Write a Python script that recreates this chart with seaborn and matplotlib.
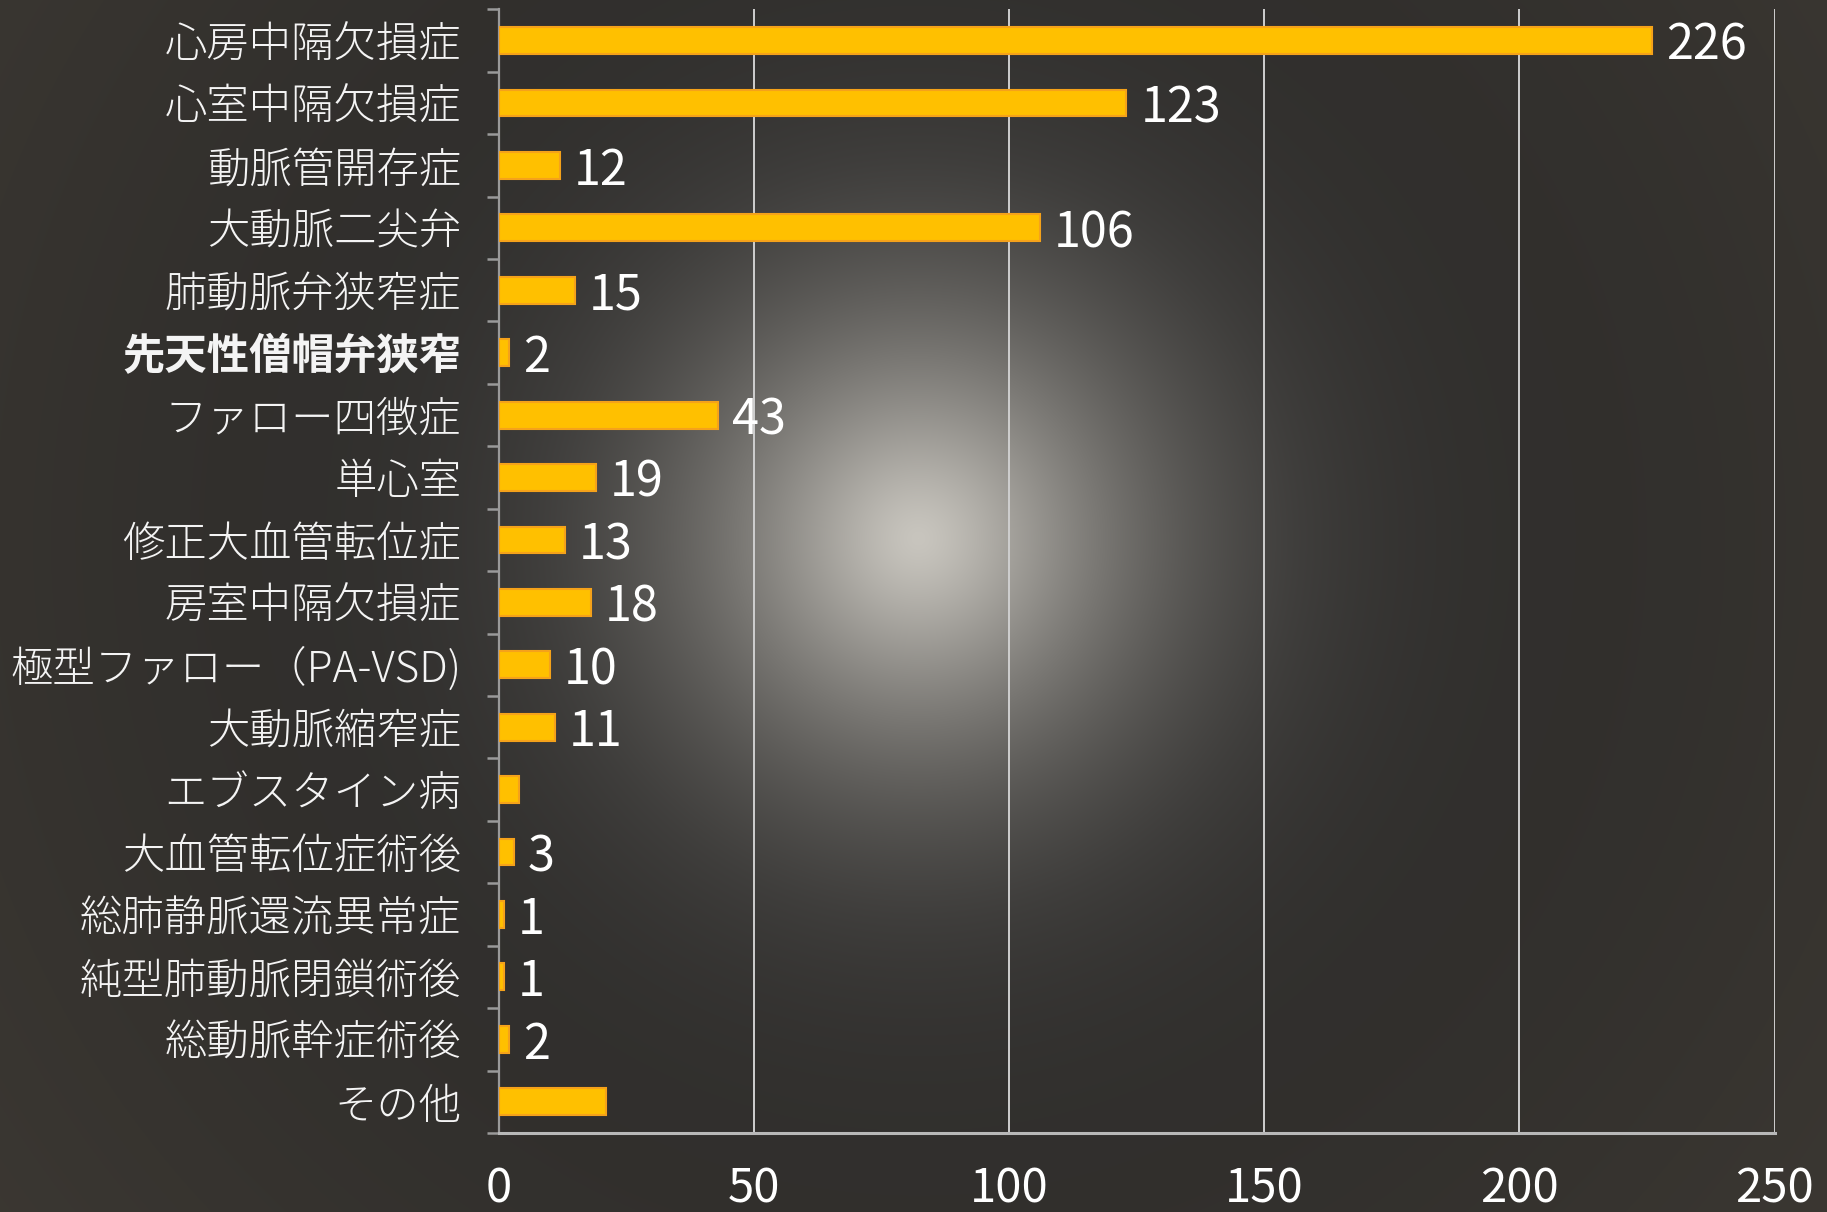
import numpy as np
import pandas as pd
import matplotlib
matplotlib.use("Agg")
import matplotlib.pyplot as plt
from matplotlib.ticker import FixedLocator
import seaborn as sns

# Congenital heart disease case counts
categories = [
    "心房中隔欠損症", "心室中隔欠損症", "動脈管開存症", "大動脈二尖弁",
    "肺動脈弁狭窄症", "先天性僧帽弁狭窄", "ファロー四徴症", "単心室",
    "修正大血管転位症", "房室中隔欠損症", "極型ファロー（PA-VSD)", "大動脈縮窄症",
    "エブスタイン病", "大血管転位症術後", "総肺静脈還流異常症", "純型肺動脈閉鎖術後",
    "総動脈幹症術後", "その他",
]
counts = [226, 123, 12, 106, 15, 2, 43, 19, 13, 18, 10, 11, 4, 3, 1, 1, 2, 21]
show_label = [True] * 12 + [False] + [True] * 4 + [False]
bold_labels = ["先天性僧帽弁狭窄"]
x_ticks = [0, 50, 100, 150, 200, 250]

sns.set_theme(style="white")
jp_font = ["Noto Sans CJK JP", "DejaVu Sans"]
num_font = ["Liberation Sans Narrow", "Noto Sans CJK JP", "DejaVu Sans"]
plt.rcParams["font.family"] = jp_font

W, H = 1827, 1212
fig = plt.figure(figsize=(W / 100, H / 100), dpi=100)

# Dark backdrop with a soft spotlight glow
bg_ax = fig.add_axes([0, 0, 1, 1], zorder=-10)
yy, xx = np.mgrid[0:H, 0:W]
r = np.hypot(xx - 918, yy - 538)
dark = np.array([41, 40, 39]) / 255
edge = np.array([62, 58, 52]) / 255
glow = np.array([200, 197, 190]) / 255
t = np.clip((r - 380) / 900, 0, 1)[..., None]
base = dark * (1 - t) + edge * t
g = np.exp(-(r / 237.0) ** 1.43)[..., None]
img = base * (1 - g) + glow * g
bg_ax.imshow(img, aspect="auto", extent=[0, W, H, 0], interpolation="bilinear")
bg_ax.set_axis_off()

ax = fig.add_axes([0.273, 0.0652, 0.6983, 0.9271])
ax.set_facecolor("none")

df = pd.DataFrame({"疾患": categories, "件数": counts})
sns.barplot(data=df, x="件数", y="疾患", orient="h", color="#FFC000",
            saturation=1, width=0.43, edgecolor="#F5A21A", linewidth=1.5,
            ax=ax, zorder=3)

n = len(categories)
ax.set_xlim(0, 250)
ax.set_ylim(n - 0.5, -0.5)
ax.set_xlabel("")
ax.set_ylabel("")

# Vertical gridlines
ax.xaxis.set_major_locator(FixedLocator(x_ticks))
ax.grid(axis="x", color="#cfcfcf", linewidth=1.4, zorder=1)
ax.grid(axis="y", visible=False)
ax.set_axisbelow(True)

for s in ["top", "right"]:
    ax.spines[s].set_visible(False)
ax.spines["bottom"].set_color("#b8b8b8")
ax.spines["bottom"].set_linewidth(2.2)
ax.spines["left"].set_color("#9a9a9a")
ax.spines["left"].set_linewidth(1.6)

ax.tick_params(axis="x", which="major", direction="out", length=10, width=1.4,
               color="#cfcfcf", pad=13, labelsize=34, labelcolor="white")
for lbl in ax.get_xticklabels():
    lbl.set_family(num_font)

# Category separators as minor ticks on the y axis
ax.yaxis.set_minor_locator(FixedLocator(np.arange(-0.5, n, 1.0)))
ax.tick_params(axis="y", which="minor", direction="out", length=9, width=1.8,
               color="#9a9a9a", left=True)
ax.tick_params(axis="y", which="major", length=0, pad=27, labelsize=30.5,
               labelcolor="#f4f4f4")
ax.set_yticks(range(n))
ax.set_yticklabels(categories)
for lbl in ax.get_yticklabels():
    lbl.set_family(jp_font)
    if lbl.get_text() in bold_labels:
        lbl.set_fontweight("bold")
    else:
        lbl.set_fontweight("light")

# Value labels at the bar ends
for i, (v, show) in enumerate(zip(counts, show_label)):
    if show:
        ax.annotate(str(v), xy=(v, i), xytext=(10, 0), textcoords="offset points",
                    ha="left", va="center_baseline", fontsize=35, color="white",
                    family=num_font, zorder=5)

fig.savefig("out.png", dpi=100)
